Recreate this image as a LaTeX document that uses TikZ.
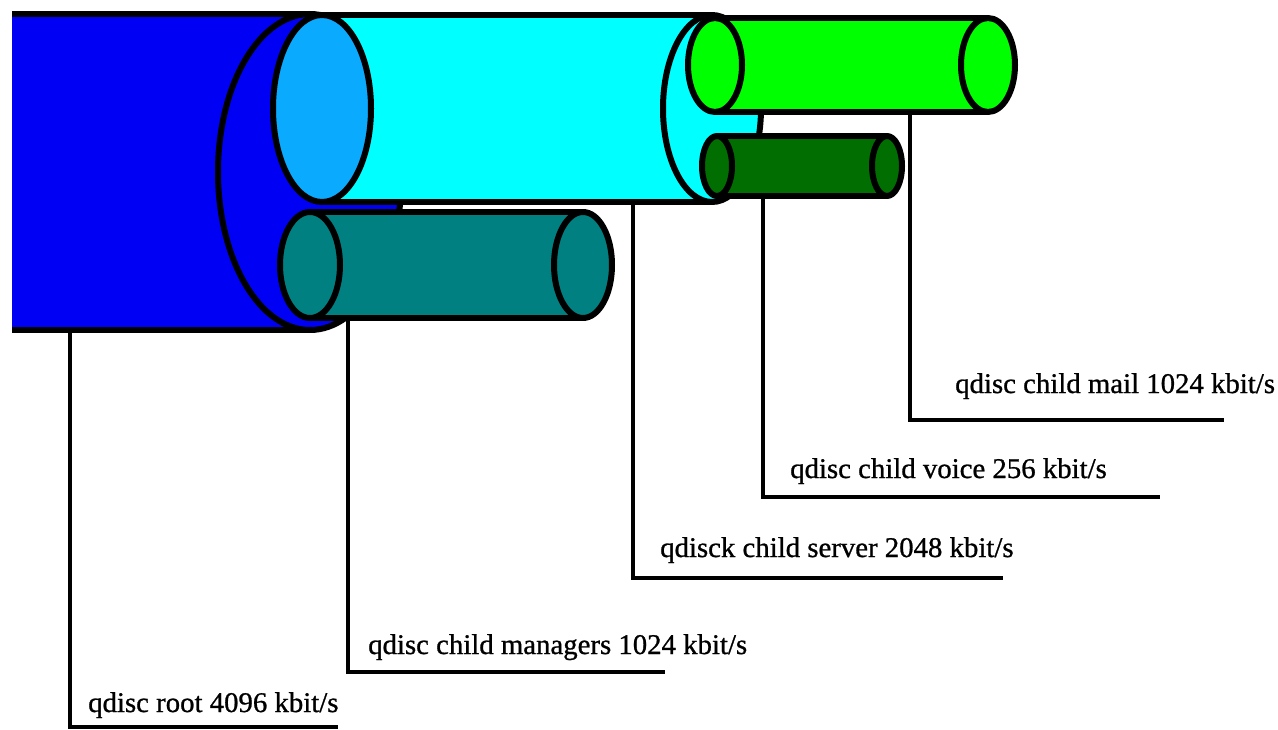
\documentclass[tikz,border=0pt]{standalone}
\usepackage{fontspec}
\newfontfamily\lblfont[FakeStretch=1.01,FakeBold=0.9]{Liberation Serif}
\definecolor{rootblue}{RGB}{0,0,245}
\definecolor{faceblue}{RGB}{10,170,255}
\definecolor{servercyan}{RGB}{0,255,255}
\definecolor{mgrteal}{RGB}{0,128,128}
\definecolor{maillime}{RGB}{0,255,0}
\definecolor{voicegreen}{RGB}{0,110,0}
\begin{document}
\begin{tikzpicture}[x=1pt,y=-1pt,line join=round,
  outl/.style={draw=black,line width=6pt},
  lead/.style={draw=black,line width=4.5pt,line join=miter},
  lbl/.style={anchor=base west,inner sep=0pt,font=\lblfont\fontsize{28.5}{32}\selectfont}]
\useasboundingbox (0,0) rectangle (1278,730);
% root cylinder
\fill[rootblue] (12,14) rectangle (310,330);
\path[fill=rootblue,outl] (310,172) ellipse [x radius=92,y radius=158];
\draw[outl,line cap=butt] (12,14) -- (310,14) (12,330) -- (306,330);
% server cylinder
\fill[servercyan] (322,15) rectangle (712,202);
\path[fill=servercyan,outl] (712,108.5) ellipse [x radius=49,y radius=93.5];
\draw[outl] (322,15) -- (712,15) (322,202) -- (712,202);
\path[fill=faceblue,outl] (322,108.5) ellipse [x radius=49,y radius=93.5];
% managers cylinder
\fill[mgrteal] (310,212) rectangle (583,318);
\path[fill=mgrteal,outl] (583,265) ellipse [x radius=29,y radius=53];
\draw[outl] (310,212) -- (583,212) (310,318) -- (583,318);
\path[fill=mgrteal,outl] (310,265) ellipse [x radius=30,y radius=53];
% mail cylinder
\fill[maillime] (715,18) rectangle (988,112);
\path[fill=maillime,outl] (988,65) ellipse [x radius=27,y radius=47];
\draw[outl] (715,18) -- (988,18) (715,112) -- (988,112);
\path[fill=maillime,outl] (715,65) ellipse [x radius=27,y radius=47];
% voice cylinder
\fill[voicegreen] (717,136) rectangle (887,196);
\path[fill=voicegreen,outl] (887,166) ellipse [x radius=15,y radius=30];
\draw[outl] (717,136) -- (887,136) (717,196) -- (887,196);
\path[fill=voicegreen,outl] (717,166) ellipse [x radius=15,y radius=30];
% leader anchors
\coordinate (rootb) at (70,333);
\coordinate (roote) at (338,727);
\coordinate (mgrb) at (348,321);
\coordinate (mgre) at (665,672);
\coordinate (srvb) at (633,205);
\coordinate (srve) at (1003,578);
\coordinate (voib) at (763,199);
\coordinate (voie) at (1160,497);
\coordinate (mailb) at (910,115);
\coordinate (maile) at (1224,420);
\draw[lead] (rootb) |- (roote);
\draw[lead] (mgrb) |- (mgre);
\draw[lead] (srvb) |- (srve);
\draw[lead] (voib) |- (voie);
\draw[lead] (mailb) |- (maile);
% labels
\node[lbl] (rootl) at (88,712) {qdisc root 4096 kbit/s};
\node[lbl] (mgrl) at (368,654) {qdisc child managers 1024 kbit/s};
\node[lbl] (srvl) at (660,557) {qdisck child server 2048 kbit/s};
\node[lbl] (voil) at (790,478) {qdisc child voice 256 kbit/s};
\node[lbl] (maill) at (955,393) {qdisc child mail 1024 kbit/s};
\end{tikzpicture}
\end{document}
